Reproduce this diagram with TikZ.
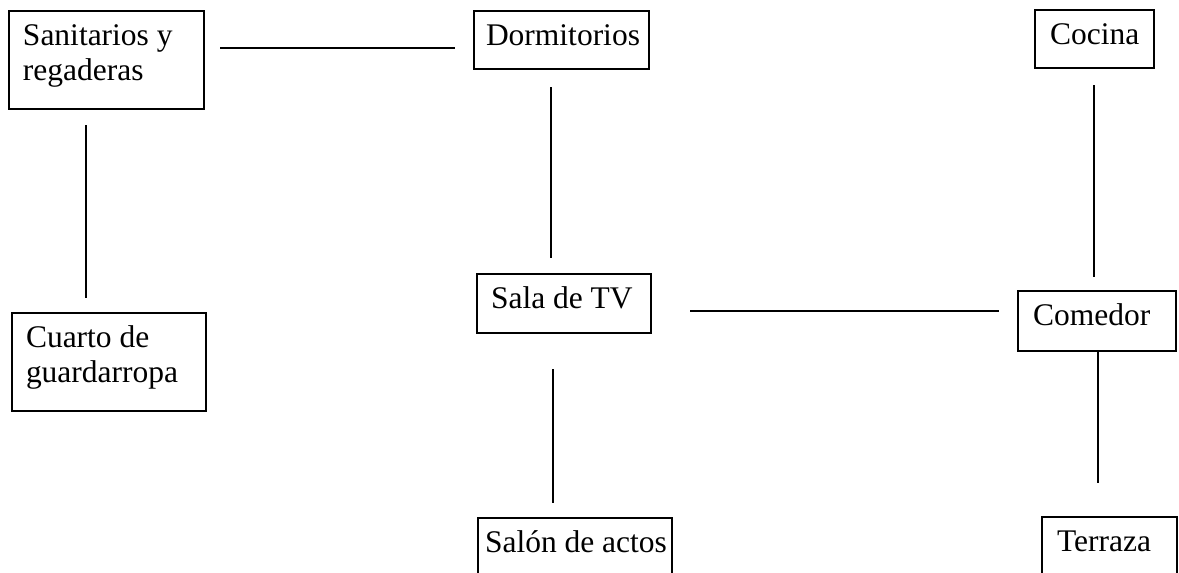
\documentclass[tikz,border=0pt]{standalone}
\usepackage{fontspec}
\setmainfont{Liberation Serif}
\newdimen\roompad
\newcommand\roombox[4]{\vbox to #2{\offinterlineskip\hsize=#1\relax\roompad=#3\relax\kern34pt #4\vfil}}
\newcommand\roomline[1]{\hbox to \hsize{\hskip\roompad\smash{#1}\hss}\kern35.5pt}
\tikzset{
  room/.style={draw, line width=2pt, inner sep=0pt, anchor=north west, font=\fontsize{31.5}{35.5}\selectfont},
  link/.style={line width=2pt}
}
\begin{document}
\begin{tikzpicture}[x=1pt,y=-1pt]
\useasboundingbox (0,0) rectangle (1179,573);
\clip (0,0) rectangle (1179,573);
\fill[white] (0,0) rectangle (1179,573);
\node[room] (san) at (8,10) {\roombox{195pt}{98pt}{14pt}{\roomline{Sanitarios y}\roomline{regaderas}}};
\node[room] (dorm) at (473,10) {\roombox{175pt}{58pt}{12pt}{\roomline{Dormitorios}}};
\node[room] (cocina) at (1034,9) {\roombox{119pt}{58pt}{15pt}{\roomline{Cocina}}};
\node[room] (sala) at (476,273) {\roombox{174pt}{59pt}{14pt}{\roomline{Sala de TV}}};
\node[room] (comedor) at (1017,290) {\roombox{158pt}{60pt}{15pt}{\roomline{Comedor}}};
\node[room] (cuarto) at (11,312) {\roombox{194pt}{98pt}{14pt}{\roomline{Cuarto de}\roomline{guardarropa}}};
\node[room] (salon) at (477,517) {\roombox{194pt}{80pt}{7pt}{\roomline{Salón de actos}}};
\node[room] (terraza) at (1041,516) {\roombox{135pt}{80pt}{15pt}{\roomline{Terraza}}};
\draw[link, shorten <=15pt, shorten >=18pt] ([yshift=-38pt]san.north east) -- ([yshift=-38pt]dorm.north west);
\draw[link, shorten <=15pt, shorten >=14pt] ([xshift=78pt]san.south west) -- ([xshift=75pt]cuarto.north west);
\draw[link, shorten <=17pt, shorten >=15pt] ([xshift=78pt]dorm.south west) -- ([xshift=75pt]sala.north west);
\draw[link, shorten <=16pt, shorten >=13pt] ([xshift=60pt]cocina.south west) -- ([xshift=77pt]comedor.north west);
\draw[link, shorten <=38pt, shorten >=18pt] ([yshift=-38pt]sala.north east) -- ([yshift=-21pt]comedor.north west);
\draw[link, shorten <=35pt, shorten >=14pt] ([xshift=77pt]sala.south west) -- ([xshift=76pt]salon.north west);
\draw[link, shorten >=33pt] ([xshift=81pt]comedor.south west) -- ([xshift=57pt]terraza.north west);
\end{tikzpicture}
\end{document}
